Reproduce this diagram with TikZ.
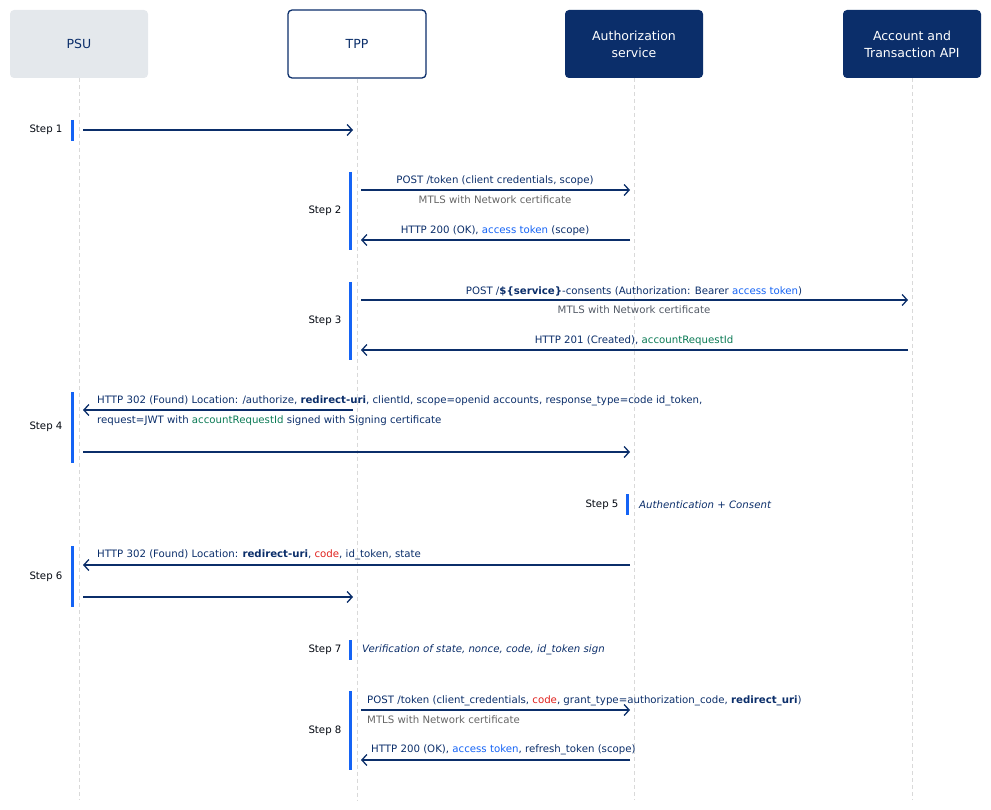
\documentclass[tikz,border=0pt]{standalone}
\usepackage{fontspec}
\setmainfont{DejaVu Sans}
\usetikzlibrary{arrows.meta}
\definecolor{navy}{HTML}{0B2E6A}
\definecolor{hblue}{HTML}{1463F5}
\definecolor{hgreen}{HTML}{0B7A55}
\definecolor{hred}{HTML}{E0201C}
\definecolor{lgray}{HTML}{E4E8EC}
\definecolor{mgray}{HTML}{666666}
\newcommand{\bl}[1]{\textcolor{hblue}{#1}}
\newcommand{\gr}[1]{\textcolor{hgreen}{#1}}
\newcommand{\rd}[1]{\textcolor{hred}{#1}}
\begin{document}
\begin{tikzpicture}[x=1pt,y=-1pt,
 font=\fontsize{10.2}{12}\selectfont,
 head/.style={minimum width=138pt,minimum height=68pt,rounded corners=4pt,align=center,font=\fontsize{12.5}{17}\selectfont},
 life/.style={draw=gray!30,dashed,line width=0.8pt,dash pattern=on 4pt off 3pt},
 msg/.style={draw=navy,line width=1.3pt,-{Straight Barb[length=5pt,width=11pt,line width=1.3pt]}},
 bar/.style={draw=hblue,line width=3pt},
 stp/.style={anchor=east,text=black!85!navy,font=\fontsize{10.2}{12}\selectfont},
 lbl/.style={text=navy,inner sep=1pt},
 sub/.style={text=mgray,inner sep=1pt}]
\useasboundingbox (0,0) rectangle (991,810);
\node[head,fill=lgray,text=navy] (psu) at (79,44) {PSU};
\node[head,draw=navy,line width=1.3pt,fill=white,text=navy] (tpp) at (357,44) {TPP};
\node[head,fill=navy,text=white] (as) at (634,44) {Authorization\\service};
\node[head,fill=navy,text=white] (api) at (912,44) {Account and\\Transaction API};
\foreach \n/\x in {psu/79,tpp/357,as/634,api/912}{
 \coordinate (\n b) at (\x,800);
 \draw[life] (\n.south) -- (\n b);}
\foreach \y in {130,190,240,300,350,410,452,565,597,710,760}{
 \coordinate (P\y) at (83,\y); \coordinate (T\y) at (353,\y);
 \coordinate (Tr\y) at (361,\y); \coordinate (A\y) at (630,\y);
 \coordinate (X\y) at (908,\y);}
\foreach \n/\x/\a/\b in {s1/72/120/141,s2/350/172/250,s3/350/282/360,s4/72/392/463,s5/627/494/515,s6/72/546/607,s7/350/640/660,s8/350/691/770}{
 \coordinate (\n a) at (\x,\a); \coordinate (\n b) at (\x,\b);
 \draw[bar] (\n a) -- (\n b);}
\node[stp] (l1) at (66,130) {Step 1};
\node[stp] (l2) at (345,211) {Step 2};
\node[stp] (l3) at (345,321) {Step 3};
\node[stp] (l4) at (66,427) {Step 4};
\node[stp] (l5) at (622,505) {Step 5};
\node[stp] (l6) at (66,577) {Step 6};
\node[stp] (l7) at (345,650) {Step 7};
\node[stp] (l8) at (345,731) {Step 8};
\draw[msg] (P130) -- (T130);
\draw[msg] (Tr190) -- (A190);
\node[lbl] (m2a) at (495,181) {POST /token (client credentials, scope)};
\node[sub] (m2b) at (495,200) {MTLS with Network certificate};
\draw[msg] (A240) -- (Tr240);
\node[lbl] (m2c) at (495,231) {HTTP 200 (OK), \bl{access token} (scope)};
\draw[msg] (Tr300) -- (X300);
\node[lbl] (m3a) at (634,291) {POST /\textbf{\$\{service\}}-consents (Authorization: Bearer \bl{access token})};
\node[sub,text=mgray!80!navy] (m3b) at (634,310) {MTLS with Network certificate};
\draw[msg] (X350) -- (Tr350);
\node[lbl] (m3c) at (634,341) {HTTP 201 (Created), \gr{accountRequestId}};
\draw[msg] (T410) -- (P410);
\node[lbl,anchor=west] (m4a) at (96,401) {HTTP 302 (Found) Location: /authorize, \textbf{redirect-uri}, clientId, scope=openid accounts, response\_type=code id\_token,};
\node[lbl,anchor=west] (m4b) at (96,421) {request=JWT with \gr{accountRequestId} signed with Signing certificate};
\draw[msg] (P452) -- (A452);
\node[lbl,anchor=west,font=\fontsize{10.2}{12}\selectfont\itshape] (m5) at (638,505) {Authentication + Consent};
\draw[msg] (A565) -- (P565);
\node[lbl,anchor=west] (m6) at (96,555) {HTTP 302 (Found) Location: \textbf{redirect-uri}, \rd{code}, id\_token, state};
\draw[msg] (P597) -- (T597);
\node[lbl,anchor=west,font=\fontsize{10.2}{12}\selectfont\itshape] (m7) at (361,650) {Verification of state, nonce, code, id\_token sign};
\draw[msg] (Tr710) -- (A710);
\node[lbl,anchor=west] (m8a) at (366,701) {POST /token (client\_credentials, \rd{code}, grant\_type=authorization\_code, \textbf{redirect\_uri})};
\node[sub,anchor=west] (m8b) at (366,720) {MTLS with Network certificate};
\draw[msg] (A760) -- (Tr760);
\node[lbl,anchor=west] (m8c) at (370,750) {HTTP 200 (OK), \bl{access token}, refresh\_token (scope)};
\end{tikzpicture}
\end{document}
